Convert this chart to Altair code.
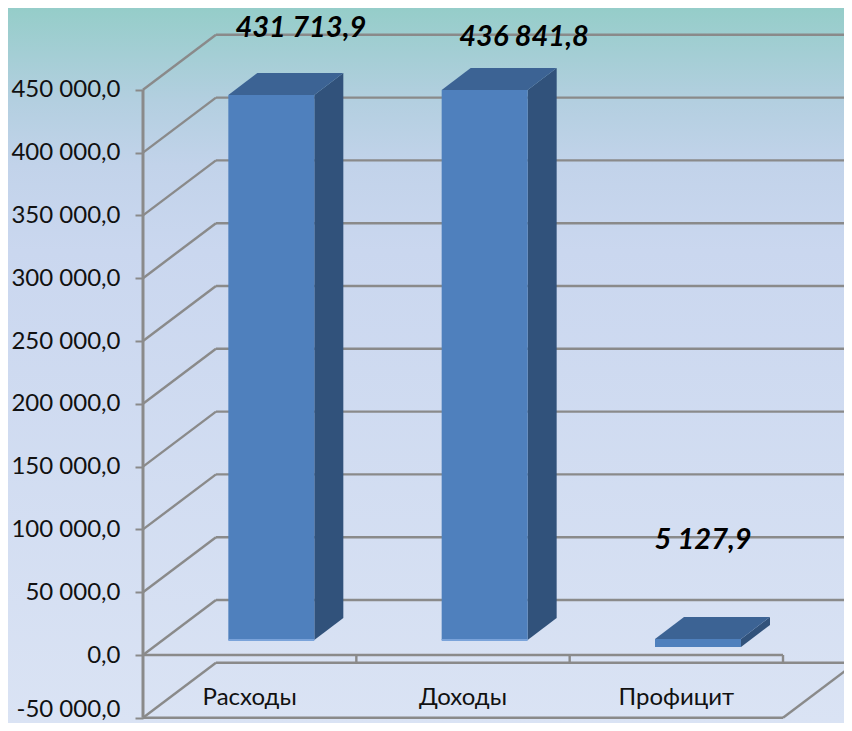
import altair as alt
import pandas as pd

categories = ["Расходы", "Доходы", "Профицит"]
values = ["431 713,9", "436 841,8", "5 127,9"]
bar_left = [0.40, 1.40, 2.40]
bar_base = [11900, 11900, 6400]
bar_top = [445900, 449800, 12700]
label_x = [0.74, 1.786, 2.625]
label_y = [499200, 492000, 91500]
ticks = [-50000, 0, 50000, 100000, 150000, 200000, 250000, 300000, 350000, 400000, 450000]

BAR_W = 0.403
WALL_DX, WALL_DY = 0.342, 43800
BAR_DX, BAR_DY = 0.136, 17500
X_DOM = [-0.6328, 3.2859]
Y_DOM = [-54140, 515130]
GREY = "#8a8a8a"
FONT = "Lato"

label_expr = "replace(replace(replace(format(datum.value, ',.1f'), /,/g, ' '), '.', ','), '\u2212', '-')"
Y_AXIS = alt.Axis(
    values=ticks, offset=-135, domain=False, grid=False, title=None, zindex=1,
    tickColor=GREY, tickWidth=2, tickSize=8, labelPadding=15,
    labelFont=FONT, labelFontSize=24, labelColor="#111111", labelExpr=label_expr, labelOverlap=False,
    labelOffset={"condition": {"test": "datum.value < 0", "value": -8}, "value": 0},
)
xs = alt.Scale(domain=X_DOM, nice=False, zero=False)
ys = alt.Scale(domain=Y_DOM, nice=False, zero=False)
X = lambda f="x": alt.X(f"{f}:Q", scale=xs, axis=None)
Y = lambda f="y": alt.Y(f"{f}:Q", scale=ys, axis=Y_AXIS)

# background
bg = alt.Chart(pd.DataFrame({"x": [X_DOM[0]], "x2": [X_DOM[1]], "y": [Y_DOM[0]], "y2": [Y_DOM[1]]})).mark_rect(
    color=alt.LinearGradient(
        gradient="linear", x1=0, y1=0, x2=0, y2=1,
        stops=[
            alt.GradientStop(offset=0, color="#95cdc9"),
            alt.GradientStop(offset=0.13, color="#b3cfe0"),
            alt.GradientStop(offset=0.22, color="#c2d3ea"),
            alt.GradientStop(offset=0.34, color="#cad7ef"),
            alt.GradientStop(offset=1, color="#dae3f4"),
        ],
    )
).encode(x=X(), x2="x2:Q", y=Y(), y2="y2:Q")

# back wall grid lines
grid = pd.DataFrame({"x": [WALL_DX] * len(ticks), "x2": [3 + WALL_DX] * len(ticks), "y": [t + WALL_DY for t in ticks]})
grid_l = alt.Chart(grid).mark_rule(color=GREY, strokeWidth=2.4, clip=True).encode(x=X(), x2="x2:Q", y=Y())

# side wall diagonals
diag = pd.DataFrame({"x": [0.0] * len(ticks), "x2": [WALL_DX] * len(ticks), "y": ticks, "y2": [t + WALL_DY for t in ticks]})
diag_l = alt.Chart(diag).mark_rule(color=GREY, strokeWidth=2.4).encode(x=X(), x2="x2:Q", y=Y(), y2="y2:Q")

# floor
floor_r = alt.Chart(pd.DataFrame({"x": [3.0], "x2": [3 + WALL_DX], "y": [-50000], "y2": [-50000 + WALL_DY]})).mark_rule(
    color=GREY, strokeWidth=2.4, clip=True).encode(x=X(), x2="x2:Q", y=Y(), y2="y2:Q")
front = pd.DataFrame({"x": [0.0, 0.0], "x2": [3.0, 3.0], "y": [0, -50000]})
front_l = alt.Chart(front).mark_rule(color=GREY, strokeWidth=2.4).encode(x=X(), x2="x2:Q", y=Y())
cat_ticks = pd.DataFrame({"x": [1.0, 2.0, 3.0], "y": [0] * 3, "y2": [-6500] * 3})
cat_tick_l = alt.Chart(cat_ticks).mark_rule(color=GREY, strokeWidth=2.4).encode(x=X(), y=Y(), y2="y2:Q")

# value axis line
axis_line = alt.Chart(pd.DataFrame({"x": [0.0], "y": [-50000], "y2": [450000]})).mark_rule(
    color=GREY, strokeWidth=3).encode(x=X(), y=Y(), y2="y2:Q")

# bars
rows = list(zip(bar_left, bar_base, bar_top))
front_df = pd.DataFrame({"x": bar_left, "x2": [b + BAR_W for b in bar_left], "y": bar_base, "y2": bar_top})
front_m = alt.Chart(front_df).mark_rect(color="#4f80bd").encode(x=X(), x2="x2:Q", y=Y(), y2="y2:Q")
edge = alt.Chart(front_df.iloc[:2]).mark_rule(color="#7aa3da", strokeWidth=2).encode(x=X(), x2="x2:Q", y=Y())

side_rows = []
top_rows = []
for i, (l, b, t) in enumerate(rows):
    r = l + BAR_W
    side_rows += [{"bar": i, "x": r, "y": t, "y2": b}, {"bar": i, "x": r + BAR_DX, "y": t + BAR_DY, "y2": b + BAR_DY}]
    top_rows += [{"bar": i, "x": l, "x2": r, "y": t}, {"bar": i, "x": l + BAR_DX, "x2": r + BAR_DX, "y": t + BAR_DY}]
side_m = alt.Chart(pd.DataFrame(side_rows)).mark_area(color="#31527b", orient="vertical").encode(
    x=X(), y=Y(), y2="y2:Q", detail="bar:N")
top_m = alt.Chart(pd.DataFrame(top_rows)).mark_area(color="#3c6394", orient="horizontal").encode(
    y=Y(), x=X(), x2="x2:Q", detail="bar:N")

# texts
cat_df = pd.DataFrame({"x": [0.5, 1.5, 2.5], "y": [-34500] * 3, "t": categories})
cat_t = alt.Chart(cat_df).mark_text(font=FONT, fontSize=24, color="#111111", baseline="middle").encode(
    x=X(), y=Y(), text="t:N")
val_df = pd.DataFrame({"x": label_x, "y": label_y, "t": values})
val_t = alt.Chart(val_df).mark_text(font=FONT, fontSize=29, fontWeight="bold", fontStyle="italic",
                                    color="#000000", baseline="middle").encode(x=X(), y=Y(), text="t:N")

chart = alt.layer(bg, grid_l, diag_l, floor_r, front_l, cat_tick_l, axis_line, side_m, top_m, front_m, edge, cat_t, val_t).properties(
    width=836, height=715, padding=0, autosize=alt.AutoSizeParams(type="none"),
).configure_view(stroke=None)

chart.save("out.html", embed_options={"renderer": "svg", "actions": False})
